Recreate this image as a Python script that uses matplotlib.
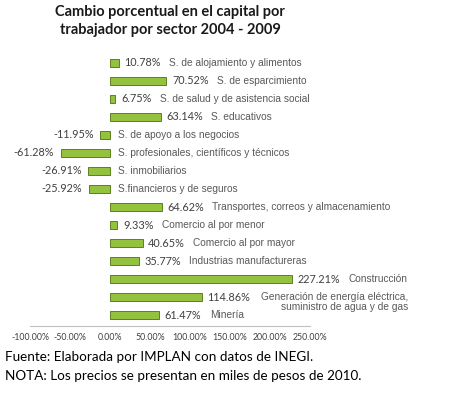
import matplotlib.pyplot as plt

# data (top to bottom as in the chart)
sectores = [
    "S. de alojamiento y alimentos",
    "S. de esparcimiento",
    "S. de salud y de asistencia social",
    "S. educativos",
    "S. de apoyo a los negocios",
    "S. profesionales, científicos y técnicos",
    "S. inmobiliarios",
    "S.financieros y de seguros",
    "Transportes, correos y almacenamiento",
    "Comercio al por menor",
    "Comercio al por mayor",
    "Industrias manufactureras",
    "Construcción",
    "Generación de energía eléctrica,\nsuministro de agua y de gas",
    "Minería",
]
cambio = [10.78, 70.52, 6.75, 63.14, -11.95, -61.28, -26.91, -25.92,
          64.62, 9.33, 40.65, 35.77, 227.21, 114.86, 61.47]
ticks = [-100, -50, 0, 50, 100, 150, 200, 250]

fig = plt.figure(figsize=(4.64, 3.95), dpi=100)
ax = fig.add_axes([30/464, 69/395, 280/464, 274/395])

n = len(cambio)
ypos = list(range(n))
ax.barh(ypos, cambio, height=0.44, color="#93c23f", edgecolor="#5f801e", linewidth=0.7)
ax.set_ylim(n - 0.4, -0.6)
ax.set_xlim(-100, 250)

val_font = dict(family="Lato", size=7.8, color="#404040")
cat_font = dict(family="Liberation Sans", size=7.3, color="#595959")

for y, v, s in zip(ypos, cambio, sectores):
    lab = f"{v:.2f}%"
    if v >= 0:
        t = ax.annotate(lab, xy=(v, y), xytext=(4, 0), textcoords="offset points",
                        va="center", ha="left", **val_font)
        if "\n" in s:
            ax.annotate(s, xy=(1, 0.5), xycoords=t, xytext=(8, 4),
                        textcoords="offset points", va="top", ha="left",
                        multialignment="right", linespacing=1.05, **cat_font)
        else:
            ax.annotate(s, xy=(1, 0.5), xycoords=t, xytext=(6, 0),
                        textcoords="offset points", va="center", ha="left", **cat_font)
    else:
        ax.annotate(lab, xy=(v, y), xytext=(-5, 0), textcoords="offset points",
                    va="center", ha="right", **val_font)
        ax.annotate(s, xy=(0, y), xytext=(6, 0), textcoords="offset points",
                    va="center", ha="left", **cat_font)

ax.set_xticks(ticks)
ax.set_xticklabels([f"{t:.2f}%" for t in ticks], family="Lato", size=6.3, color="#404040")
ax.tick_params(axis="x", length=0, pad=5)
ax.set_yticks([])
for sp in ["top", "right", "left"]:
    ax.spines[sp].set_visible(False)
ax.spines["bottom"].set_color("#c0c0c0")

fig.text(170/464, 1 - 21/395, "Cambio porcentual en el capital por\ntrabajador por sector 2004 - 2009",
         ha="center", va="center", family="Lato", weight="bold", size=10.5,
         linespacing=1.3, color="#1a1a1a")

fig.text(5/464, 1 - 357/395, "Fuente: Elaborada por IMPLAN con datos de INEGI.",
         ha="left", va="center", family="Lato", size=9.7, color="#000000")
fig.text(5/464, 1 - 376/395, "NOTA: Los precios se presentan en miles de pesos de 2010.",
         ha="left", va="center", family="Lato", size=9.7, color="#000000")

fig.savefig("out.png", dpi=100, facecolor="white")
